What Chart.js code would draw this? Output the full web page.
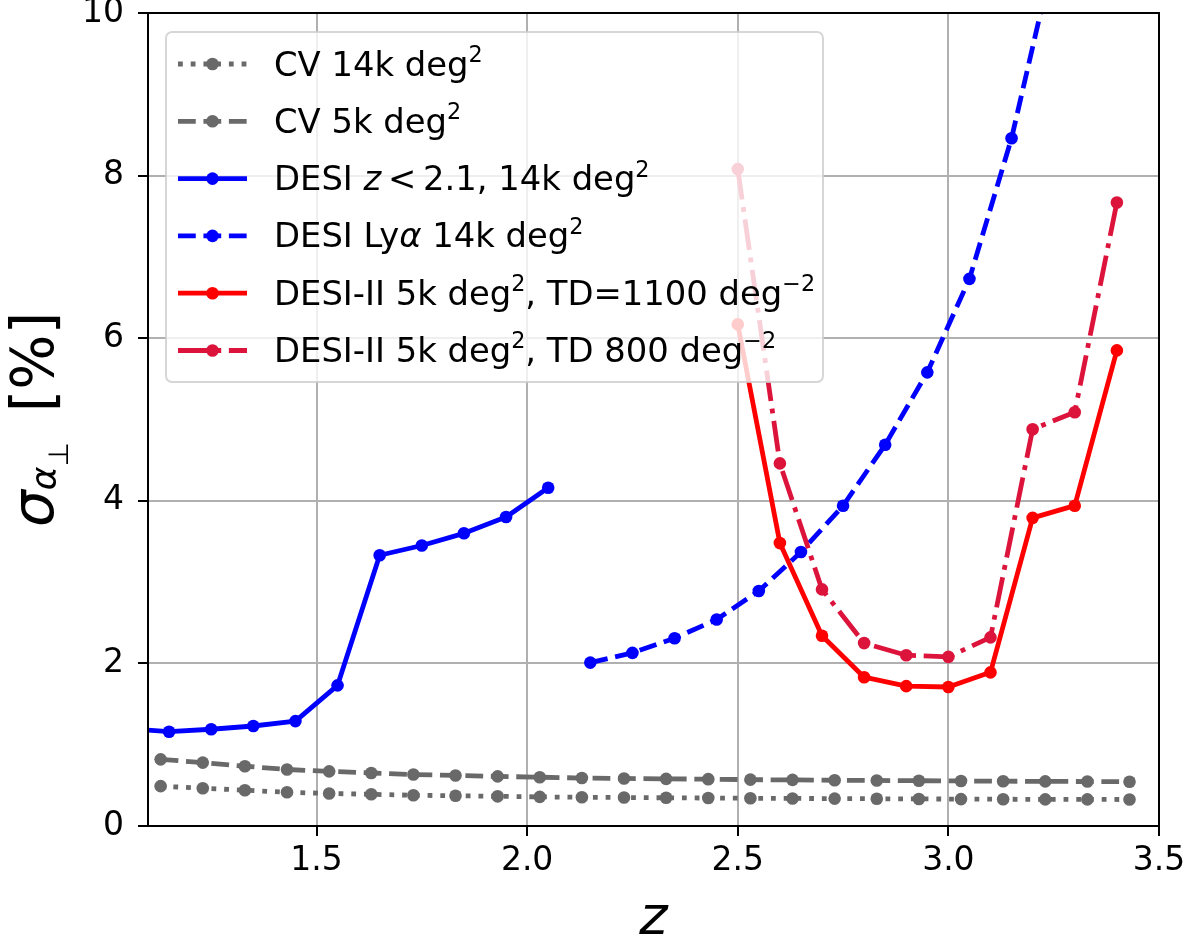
<!DOCTYPE html>
<html>
<head>
<meta charset="utf-8">
<script src="https://cdn.jsdelivr.net/npm/chart.js@4.4.0/dist/chart.umd.min.js"></script>
<style>
  html, body { margin: 0; padding: 0; background: #fff; }
  canvas { display: block; }
</style>
</head>
<body>
<canvas id="chart" width="1195" height="943"></canvas>
<script>
// values
const zCV = [1.13, 1.23, 1.33, 1.43, 1.53, 1.63, 1.73, 1.83, 1.93, 2.03, 2.13, 2.23,
             2.33, 2.43, 2.53, 2.63, 2.73, 2.83, 2.93, 3.03, 3.13, 3.23, 3.33, 3.43];
const cv14k = [0.49, 0.465, 0.44, 0.415, 0.40, 0.39, 0.378, 0.372, 0.365, 0.358, 0.353, 0.35,
               0.347, 0.344, 0.341, 0.339, 0.337, 0.335, 0.333, 0.331, 0.329, 0.328, 0.327, 0.326];
const cv5k = [0.82, 0.78, 0.735, 0.695, 0.672, 0.652, 0.633, 0.622, 0.61, 0.60, 0.59, 0.585,
              0.58, 0.576, 0.57, 0.567, 0.563, 0.56, 0.557, 0.554, 0.551, 0.549, 0.547, 0.545];

const zLow = [1.05, 1.15, 1.25, 1.35, 1.45, 1.55, 1.65, 1.75, 1.85, 1.95, 2.05];
const desiLow = [1.20, 1.16, 1.19, 1.23, 1.29, 1.73, 3.33, 3.45, 3.60, 3.80, 4.16];

const zLya = [2.15, 2.25, 2.35, 2.45, 2.55, 2.65, 2.75, 2.85, 2.95, 3.05, 3.15, 3.25];
const desiLya = [2.01, 2.13, 2.31, 2.54, 2.89, 3.37, 3.94, 4.69, 5.58, 6.73, 8.46, 10.7];

const zDesi2 = [2.5, 2.6, 2.7, 2.8, 2.9, 3.0, 3.1, 3.2, 3.3, 3.4];
const desi2TD1100 = [6.17, 3.48, 2.34, 1.83, 1.72, 1.71, 1.89, 3.79, 3.94, 5.85];
const desi2TD800 = [8.08, 4.46, 2.91, 2.25, 2.10, 2.08, 2.32, 4.88, 5.09, 7.67];

const xTicks = [1.5, 2.0, 2.5, 3.0, 3.5];
const yTicks = [0, 2, 4, 6, 8, 10];

const FONT = '"DejaVu Sans", sans-serif';
const LW = 4.8;
const DOTTED = [LW, LW * 1.65];
const DASHED = [LW * 3.7, LW * 1.6];
const DASHDOT = [LW * 6.4, LW * 1.6, LW, LW * 1.6];

// legend labels with their superscripts
const sq = { t: '2', s: 0.66, up: 0.4 };
const sqm = { t: '\u22122', s: 0.66, up: 0.4 };
const legendLabels = [
    [{ t: 'CV 14k deg' }, sq],
    [{ t: 'CV 5k deg' }, sq],
    [{ t: 'DESI ' }, { t: 'z', it: true }, { t: '\u2009<\u20092.1, 14k deg' }, sq],
    [{ t: 'DESI Ly' }, { t: '\u03b1', it: true }, { t: ' 14k deg' }, sq],
    [{ t: 'DESI-II 5k deg' }, sq, { t: ', TD=1100 deg' }, sqm],
    [{ t: 'DESI-II 5k deg' }, sq, { t: ', TD 800 deg' }, sqm]
];

function series(label, xs, ys, color, dash) {
    return {
        label: label,
        data: xs.map((x, i) => ({ x: x, y: ys[i] })),
        borderColor: color,
        backgroundColor: color,
        pointBackgroundColor: color,
        pointBorderColor: color,
        pointBorderWidth: 0,
        pointRadius: 6.3,
        pointHoverRadius: 6.3,
        borderWidth: LW,
        borderDash: dash,
        borderCapStyle: 'butt',
        borderJoinStyle: 'round',
        tension: 0,
        fill: false
    };
}

const datasets = [
    series('CV 14k', zCV, cv14k, '#696969', DOTTED),
    series('CV 5k', zCV, cv5k, '#696969', DASHED),
    series('DESI z<2.1', zLow, desiLow, '#0000ff', []),
    series('DESI Lya', zLya, desiLya, '#0000ff', DASHED),
    series('DESI-II TD=1100', zDesi2, desi2TD1100, '#ff0000', []),
    series('DESI-II TD 800', zDesi2, desi2TD800, '#dc143c', DASHDOT)
];
// later series on top, like matplotlib
datasets.forEach((d, i) => { d.order = datasets.length - i; });

function fontOf(p, size) {
    return (p.it ? 'italic ' : '') + (size * (p.s || 1)).toFixed(1) + 'px ' + FONT;
}

function richWidth(ctx, parts, size) {
    let w = 0;
    parts.forEach(p => { ctx.font = fontOf(p, size); w += ctx.measureText(p.t).width; });
    return w;
}

function drawRich(ctx, parts, x, y, size) {
    let cx = x;
    parts.forEach(p => {
        ctx.font = fontOf(p, size);
        ctx.fillText(p.t, cx, y - (p.up || 0) * size);
        cx += ctx.measureText(p.t).width;
    });
}

const decorations = {
    id: 'decorations',
    afterDraw(chart) {
        const ctx = chart.ctx;
        const a = chart.chartArea;
        ctx.save();

        // frame
        ctx.strokeStyle = '#000';
        ctx.lineWidth = 2;
        ctx.setLineDash([]);
        ctx.strokeRect(a.left, a.top, a.right - a.left, a.bottom - a.top);

        // legend box
        const bx = 166, by = 32, bw = 657, bh = 350;
        ctx.beginPath();
        ctx.roundRect(bx, by, bw, bh, 6);
        ctx.fillStyle = 'rgba(255,255,255,0.8)';
        ctx.fill();
        ctx.strokeStyle = 'rgba(204,204,204,0.8)';
        ctx.lineWidth = 2;
        ctx.stroke();

        ctx.textAlign = 'left';
        ctx.textBaseline = 'alphabetic';
        datasets.forEach((d, i) => {
            const y = 64 + i * 57.3;
            ctx.strokeStyle = d.borderColor;
            ctx.lineWidth = LW;
            ctx.lineCap = 'butt';
            ctx.setLineDash(d.borderDash);
            ctx.lineDashOffset = 0;
            ctx.beginPath();
            ctx.moveTo(178, y);
            ctx.lineTo(247, y);
            ctx.stroke();
            ctx.setLineDash([]);
            ctx.fillStyle = d.borderColor;
            ctx.beginPath();
            ctx.arc(212.5, y, 6.3, 0, Math.PI * 2);
            ctx.fill();
            ctx.fillStyle = '#000';
            drawRich(ctx, legendLabels[i], 274, y + 11.5, 33.8);
        });

        // x axis title
        ctx.fillStyle = '#000';
        ctx.textAlign = 'center';
        ctx.font = 'italic 54px ' + FONT;
        ctx.fillText('z', (a.left + a.right) / 2, 934);

        // y axis title, rotated
        const yParts = [
            { t: '\u03c3', it: true },
            { t: '\u03b1', it: true, s: 0.62, up: -0.06 },
            { t: '\u22a5', s: 0.48, up: -0.25 },
            { t: ' \u2009[%]' }
        ];
        const ysize = 58;
        ctx.textAlign = 'left';
        const w = richWidth(ctx, yParts, ysize);
        ctx.translate(53, (a.top + a.bottom) / 2);
        ctx.rotate(-Math.PI / 2);
        drawRich(ctx, yParts, -w / 2, 0, ysize);

        ctx.restore();
    }
};

new Chart(document.getElementById('chart'), {
    type: 'line',
    data: { datasets: datasets },
    options: {
        responsive: false,
        animation: false,
        devicePixelRatio: 1,
        layout: { padding: { left: 0, right: 36, top: 13, bottom: 0 } },
        plugins: { legend: { display: false }, tooltip: { enabled: false } },
        scales: {
            x: {
                type: 'linear',
                min: 1.1,
                max: 3.5,
                afterBuildTicks: s => { s.ticks = xTicks.map(v => ({ value: v })); },
                afterFit: s => { s.height = 117; },
                ticks: {
                    color: '#000',
                    font: { family: FONT, size: 33 },
                    padding: 6,
                    maxRotation: 0,
                    autoSkip: false,
                    callback: v => Number(v).toFixed(1)
                },
                grid: { color: '#b0b0b0', lineWidth: 2, tickLength: 10, tickColor: '#000', tickWidth: 2 },
                border: { display: false }
            },
            y: {
                type: 'linear',
                min: 0,
                max: 10,
                afterBuildTicks: s => { s.ticks = yTicks.map(v => ({ value: v })); },
                afterFit: s => {
                    s.width = 148;
                    // keep the plot top at the fixed padding
                    s.paddingTop = 0;
                    s.paddingBottom = 0;
                },
                ticks: {
                    color: '#000',
                    font: { family: FONT, size: 33 },
                    padding: 14,
                    callback: v => String(v)
                },
                grid: { color: '#b0b0b0', lineWidth: 2, tickLength: 10, tickColor: '#000', tickWidth: 2 },
                border: { display: false }
            }
        }
    },
    plugins: [decorations]
});
</script>
</body>
</html>
